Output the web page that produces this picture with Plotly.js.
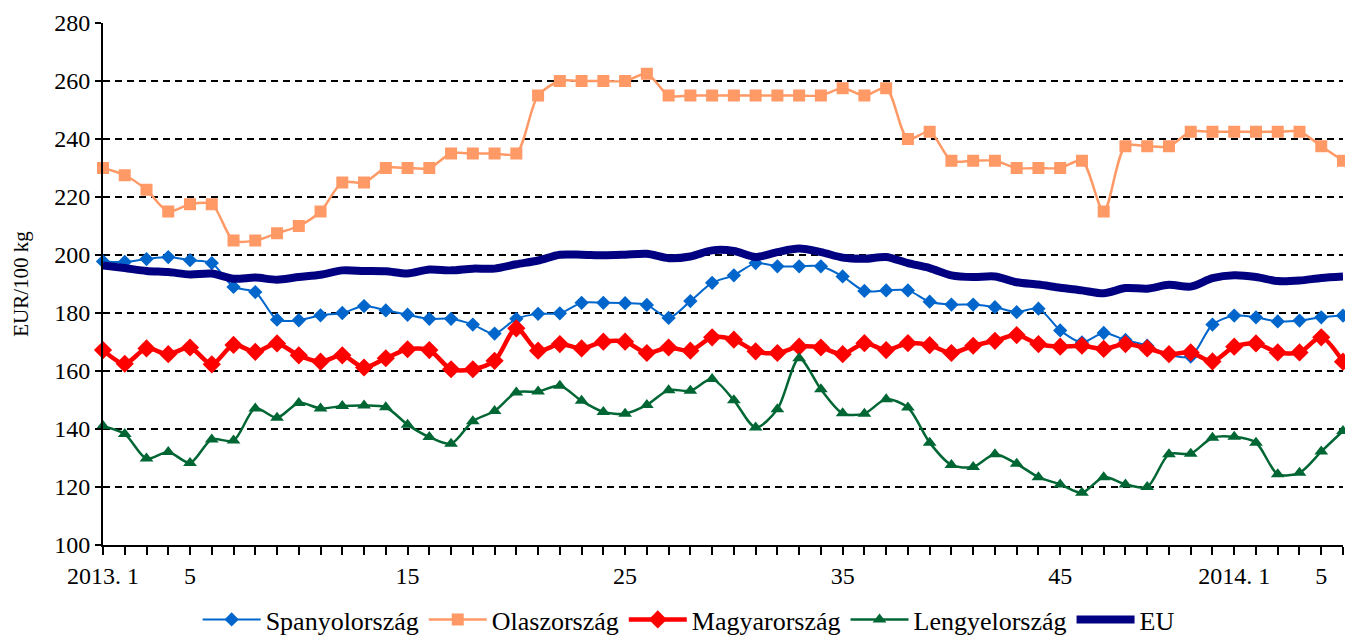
<!DOCTYPE html>
<html>
<head>
<meta charset="utf-8">
<script src="https://cdn.plot.ly/plotly-3.0.1.min.js"></script>
<style>html,body{margin:0;padding:0;background:#fff;}#chart{width:1345px;height:640px;}</style>
</head>
<body>
<div id="chart"></div>
<script>
const weeks = ["2013. 1","2013. 2","2013. 3","2013. 4","2013. 5","2013. 6","2013. 7","2013. 8","2013. 9","2013. 10",
  "2013. 11","2013. 12","2013. 13","2013. 14","2013. 15","2013. 16","2013. 17","2013. 18","2013. 19","2013. 20",
  "2013. 21","2013. 22","2013. 23","2013. 24","2013. 25","2013. 26","2013. 27","2013. 28","2013. 29","2013. 30",
  "2013. 31","2013. 32","2013. 33","2013. 34","2013. 35","2013. 36","2013. 37","2013. 38","2013. 39","2013. 40",
  "2013. 41","2013. 42","2013. 43","2013. 44","2013. 45","2013. 46","2013. 47","2013. 48","2013. 49","2013. 50",
  "2013. 51","2013. 52","2014. 1","2014. 2","2014. 3","2014. 4","2014. 5","2014. 6"];

const tickLabels = ["2013. 1","","","","5","","","","","",
  "","","","","15","","","","","",
  "","","","","25","","","","","",
  "","","","","35","","","","","",
  "","","","","45","","","","","",
  "","","2014. 1","","","","5",""];

const spanyol = [197.8,197.6,198.6,199.3,198.2,197.2,189,187.2,177.7,177.5,
  179.2,180,182.4,180.9,179.4,178,178,176,172.9,178,
  179.7,179.9,183.5,183.5,183.4,182.8,178.3,184.1,190.4,193,
  197.2,196.1,196.1,196.1,192.6,187.6,187.8,187.8,183.9,182.9,
  182.9,182,180.3,181.5,174,169.9,173.1,170.7,168.7,165.6,
  165,176,179.1,178.5,177.1,177.4,178.5,179.1];

const olasz = [230,227.5,222.5,215,217.5,217.5,205,205,207.5,210,
  215,225,225,230,230,230,235,235,235,235,
  255,260,260,260,260,262.5,255,255,255,255,
  255,255,255,255,257.5,255,257.5,240,242.5,232.5,
  232.5,232.5,230,230,230,232.5,215,237.5,237.5,237.5,
  242.5,242.5,242.5,242.5,242.5,242.5,237.5,232.5];

const magyar = [167.2,162.5,167.8,165.8,168.1,162.3,169,166.6,169.5,165.4,
  163.2,165.4,161.2,164.4,167.5,167.2,160.6,160.6,163.5,174.7,
  167,169.3,167.8,170.1,170.1,166.2,168.1,167,171.6,170.8,
  166.8,166.2,168.4,168.1,165.8,169.6,167.2,169.6,168.9,166.2,
  168.7,170.4,172.4,169.3,168.4,168.7,167.6,169.3,167.8,165.8,
  166.4,163.3,168.4,169.5,166.4,166.4,171.6,163.2];

const lengyel = [141,138.3,129.8,132.1,128.3,136.4,136,147.1,143.9,149,
  147.1,147.9,148.1,147.5,141.5,137.2,134.9,142.7,146.2,152.6,
  152.9,154.9,149.7,145.9,145.3,148.3,153.4,153.2,157.2,149.9,
  140.5,146.8,164.4,153.7,145.4,145.3,150.3,147.4,135.3,127.6,
  126.9,131.3,128,123.4,120.9,118,123.4,120.9,120,131.3,
  131.5,137,137.3,135.3,124.4,124.9,132.2,139.3];

const eu = [196.4,195.5,194.5,194.1,193.3,193.6,191.8,192.2,191.5,192.4,
  193.2,194.7,194.5,194.4,193.6,195,194.7,195.3,195.3,196.8,
  198.1,200.1,200.1,199.9,200.1,200.4,198.9,199.5,201.6,201.4,
  199.3,201,202.2,201,199.1,198.7,199.3,197.2,195.5,193,
  192.4,192.6,190.6,189.8,188.7,187.8,186.8,188.6,188.4,189.7,
  189.1,192,193,192.4,191,191.2,192.1,192.6];

const seriesNames = ["Spanyolország","Olaszország","Magyarország","Lengyelország","EU"];
const yTitle = "EUR/100 kg";

const font = "Liberation Serif";

const traces = [
  {name: seriesNames[0], x: weeks, y: spanyol, type: "scatter", mode: "lines+markers",
   line: {color: "#0066CC", width: 2, shape: "spline", smoothing: 0.8},
   marker: {symbol: "diamond", size: 11, color: "#0066CC"}, cliponaxis: false},
  {name: seriesNames[1], x: weeks, y: olasz, type: "scatter", mode: "lines+markers",
   line: {color: "#FF9966", width: 2.5, shape: "spline", smoothing: 0.8},
   marker: {symbol: "square", size: 12, color: "#FF9966"}, cliponaxis: false},
  {name: seriesNames[2], x: weeks, y: magyar, type: "scatter", mode: "lines+markers",
   line: {color: "#FF0000", width: 4.5, shape: "spline", smoothing: 0.8},
   marker: {symbol: "diamond", size: 14, color: "#FF0000"}, cliponaxis: false},
  {name: seriesNames[3], x: weeks, y: lengyel, type: "scatter", mode: "lines+markers",
   line: {color: "#006633", width: 2.5, shape: "spline", smoothing: 0.8},
   marker: {symbol: "triangle-up", size: 12, color: "#006633"}, cliponaxis: false},
  {name: seriesNames[4], x: weeks, y: eu, type: "scatter", mode: "lines",
   line: {color: "#000080", width: 8, shape: "spline", smoothing: 0.8}, cliponaxis: false}
];

const layout = {
  width: 1345, height: 640,
  margin: {l: 103, r: 2, t: 23, b: 95},
  paper_bgcolor: "#ffffff", plot_bgcolor: "#ffffff",
  font: {family: font, size: 24, color: "#000000"},
  showlegend: true,
  legend: {orientation: "h", x: 0.512, xanchor: "center", xref: "container",
           y: 0.032, yanchor: "middle", yref: "container",
           font: {family: font, size: 26, color: "#000"}, itemwidth: 58, tracegroupgap: 0},
  xaxis: {
    type: "category", range: [0, 57],
    tickmode: "array", tickvals: weeks, ticktext: tickLabels,
    ticks: "outside", ticklen: 8, tickwidth: 2, tickcolor: "#000",
    showline: true, linecolor: "#000", linewidth: 2,
    showgrid: false, zeroline: false, automargin: false,
    tickfont: {family: font, size: 24, color: "#000"}, tickangle: 0
  },
  yaxis: {
    range: [100, 280], dtick: 20, tick0: 100,
    ticks: "outside", ticklen: 6, tickwidth: 2, tickcolor: "#000",
    showline: true, linecolor: "#000", linewidth: 2,
    showgrid: true, gridcolor: "#000", gridwidth: 2, griddash: "7px,5px",
    zeroline: false, automargin: false,
    tickfont: {family: font, size: 24, color: "#000"},
    title: {text: yTitle, font: {family: font, size: 21, color: "#000"}, standoff: 20}
  }
};

Plotly.newPlot("chart", traces, layout, {displayModeBar: false, staticPlot: true});
</script>
</body>
</html>
